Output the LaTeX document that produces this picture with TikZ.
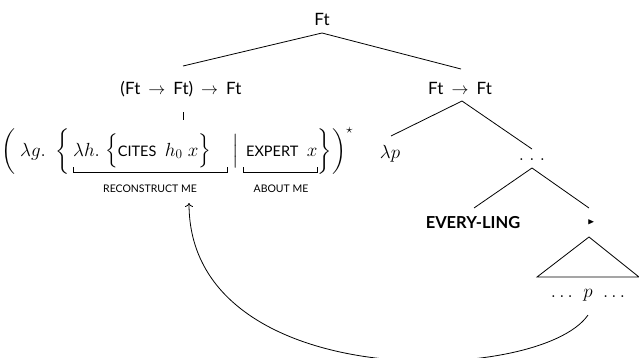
\documentclass[tikz,border=0pt]{standalone}
\usepackage{fix-cm}
\usepackage{amsmath,amssymb}
\usepackage{fontspec}
\setmainfont{Lato}
\usetikzlibrary{arrows.meta}
\begin{document}
\begin{tikzpicture}[x=1pt,y=-1pt,
  every node/.style={inner sep=0pt},
  big/.style={font=\fontsize{17}{20}\selectfont},
  mth/.style={font=\fontsize{19}{22}\selectfont},
  lab/.style={font=\fontsize{10.5}{12}\selectfont},
  boldlab/.style={font=\fontsize{16.5}{18}\selectfont\bfseries},
  edge/.style={line width=0.8pt},
  brk/.style={line width=0.8pt}]
\useasboundingbox (0,0) rectangle (639,357);
\newcommand{\smc}[1]{\mbox{\fontsize{14.5}{16}\selectfont #1}}
\newcommand{\arr}{\hspace{8pt}$\rightarrow$\hspace{8pt}}
% tree labels
\node[big,anchor=base] (root) at (322,25) {Ft};
\node[big,anchor=base] (lt) at (181,94) {(Ft\arr Ft)\arr Ft};
\node[big,anchor=base] (rt) at (460,94) {Ft\arr Ft};
\node[mth,anchor=base] (lp) at (390,158) {$\lambda p$};
\node[mth,anchor=base] (dots) at (532,160) {$.\;.\;.$};
\node[boldlab,anchor=base] (ev) at (473,228) {EVERY-LING};
\node[font=\fontsize{9}{9}\selectfont] (tri) at (591,222) {$\blacktriangleright$};
\node[mth,anchor=base] (pp) at (588,297) {$.\,.\,.\;\; p \;\;.\,.\,.$};
% lambda expression
\node[mth,anchor=base west] (p1) at (1,156) {$\biggl($};
\node[mth,anchor=base] (p2) at (33,156) {$\lambda g.$};
\node[mth,anchor=base] (p3) at (63,156) {$\biggl\{$};
\node[mth,anchor=base west] (e2) at (73,156) {$\lambda h.\;\Bigl\{\smc{CITES}\;\,h_0\;x\Bigr\}$};
\node[mth,anchor=base] (e3) at (236,156) {$\Big|$};
\node[mth,anchor=base west] (e4) at (246,156) {$\smc{EXPERT}\;\,x$};
\node[mth,anchor=base] (p5) at (325,156) {$\biggr\}$};
\node[mth,anchor=base west] (p6) at (332,156) {$\biggr)^{\star}$};
\node[lab,anchor=base] (rl) at (150,192) {RECONSTRUCT ME};
\node[lab,anchor=base] (al) at (281,192) {ABOUT ME};
% brackets
\coordinate (b1a) at (73,167); \coordinate (b1b) at (227,167);
\coordinate (b2a) at (243,167); \coordinate (b2b) at (317,167);
\draw[brk] (b1a) -- ++(0,5) -| (b1b);
\draw[brk] (b2a) -- ++(0,5) -| (b2b);
% connector coordinates
\coordinate (rootB) at (322,33);
\coordinate (ltT) at (183,66);
\coordinate (rtT) at (461,69);
\coordinate (ltB) at (183,112);
\coordinate (eT) at (183,120);
\coordinate (rtB) at (462,101);
\coordinate (lpT) at (391,136);
\coordinate (dotsT) at (532,149);
\coordinate (dotsB) at (532,168);
\coordinate (evT) at (474,208);
\coordinate (triT) at (589,208);
\coordinate (apex) at (589,237);
\coordinate (baseL) at (537,277);
\coordinate (baseR) at (639,277);
\coordinate (ppB) at (588,315);
\coordinate (tgt) at (189,203);
\draw[edge] (rootB) -- (ltT);
\draw[edge] (rootB) -- (rtT);
\draw[edge] (ltB) -- (eT);
\draw[edge] (rtB) -- (lpT);
\draw[edge] (rtB) -- (dotsT);
\draw[edge] (dotsB) -- (evT);
\draw[edge] (dotsB) -- (triT);
\draw[edge] (apex) -- (baseL) -- (baseR) -- cycle;
\draw[edge,-{To[length=4pt,width=8pt]}] (ppB) .. controls (540,385) and (189,395) .. (tgt);
\end{tikzpicture}
\end{document}
